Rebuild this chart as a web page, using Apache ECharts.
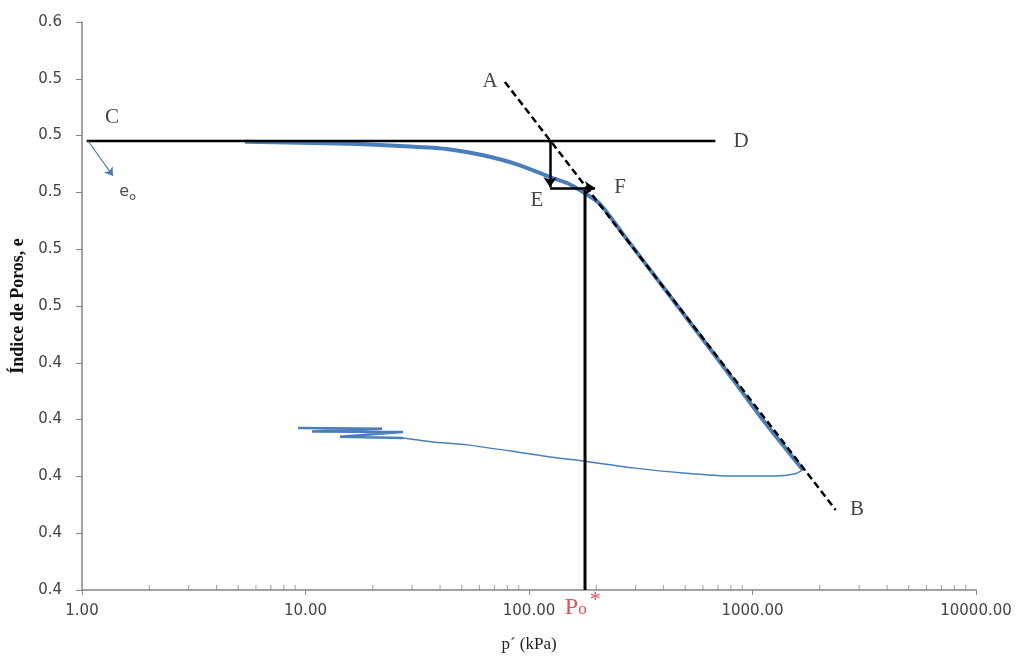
<!DOCTYPE html>
<html>
<head>
<meta charset="utf-8">
<script src="https://cdn.jsdelivr.net/npm/echarts@6/dist/echarts.min.js"></script>
<style>
  html, body { margin: 0; padding: 0; background: #fff; }
  #chart { width: 1016px; height: 656px; }
</style>
</head>
<body>
<div id="chart"></div>
<script>
// curva de carga (p', e)
var loadP = [5.36, 9.45, 15.8, 21.5, 29.4, 37.2, 44.3, 62.3, 88.4, 124.2, 147.9, 174.4, 207.8, 263.4, 427.4, 715.4, 1080, 1683];
var loadE = [0.5178, 0.5175, 0.5171, 0.5167, 0.5162, 0.5157, 0.5151, 0.5131, 0.5099, 0.5054, 0.5033, 0.5001, 0.4959, 0.4853, 0.4635, 0.4403, 0.4213, 0.4023];
// curva de descarga
var unloadP = [1683, 1550, 1261, 818, 488.7, 292, 174.4, 124.2, 88.4, 52.8, 37.2, 27.3];
var unloadE = [0.4023, 0.4009, 0.4001, 0.4001, 0.4012, 0.4030, 0.4054, 0.4068, 0.4086, 0.4111, 0.4121, 0.4135];
// tramo final irregular de la descarga
var jagP = [27.3, 14.27, 27.3, 10.69, 22.0, 9.26];
var jagE = [0.4135, 0.4140, 0.4156, 0.4158, 0.4168, 0.4170];
// construccion de Casagrande
var lineCD = [[1.05, 0.5181], [682, 0.5181]];
var lineAB = [[78, 0.5389], [2355, 0.3882]];
var lineP0 = [[178.1, 0.36], [178.1, 0.5019]];
var arrowEF = [
  [[124.2, 0.5181], [124.2, 0.5018]],
  [[124.2, 0.50155], [197.4, 0.50155]]
];
var arrowE0 = [[1.064, 0.5181], [1.376, 0.5058]];
// etiquetas [texto, p', e]
var labels = [
  ['A', 66.9, 0.5389],
  ['B', 2935, 0.3882],
  ['C', 1.362, 0.5265],
  ['D', 888, 0.5181],
  ['E', 108.6, 0.4973],
  ['F', 255.4, 0.5019]
];
var labelE0 = [1.60, 0.5001];
var labelP0 = [174, 0.3538];
// ejes
var yMin = 0.36, yMax = 0.56, yStep = 0.02;
var xMin = 1, xMax = 10000;
var minorMult = [2, 3, 4, 5, 6, 7, 8, 9];
var decades = [1, 10, 100, 1000];

var zip = function (a, b) { return a.map(function (v, i) { return [v, b[i]]; }); };
var minorTicks = [];
decades.forEach(function (d) { minorMult.forEach(function (m) { minorTicks.push([d * m, yMin]); }); });

var chart = echarts.init(document.getElementById('chart'));
var black = '#000';
var blue = '#4a7ebb';
var red = '#e3202a';
var axisGray = '#868686';

chart.setOption({
  animation: false,
  grid: { left: 82, right: 40, top: 22, bottom: 66, containLabel: false, outerBoundsMode: 'none' },
  xAxis: {
    type: 'log',
    logBase: 10,
    min: xMin,
    max: xMax,
    name: 'p´ (kPa)',
    nameLocation: 'middle',
    nameGap: 46,
    nameTextStyle: { fontFamily: 'Liberation Serif', fontSize: 17, color: '#222' },
    axisLine: { lineStyle: { color: axisGray, width: 1.5 } },
    axisTick: { show: true, length: 5, lineStyle: { color: axisGray } },
    splitLine: { show: false },
    axisLabel: {
      fontFamily: 'DejaVu Sans', fontSize: 15, color: '#444', margin: 14,
      formatter: function (v) { return Number(v).toFixed(2); }
    }
  },
  yAxis: {
    type: 'value',
    min: yMin,
    max: yMax,
    interval: yStep,
    name: 'Índice de Poros, e',
    nameLocation: 'middle',
    nameGap: 54,
    nameTextStyle: { fontFamily: 'Liberation Serif', fontWeight: 'bold', fontSize: 18, color: '#111' },
    axisLine: { show: true, lineStyle: { color: axisGray, width: 1.5 } },
    axisTick: { show: true, length: 6, lineStyle: { color: axisGray } },
    splitLine: { show: false },
    axisLabel: {
      fontFamily: 'DejaVu Sans', fontSize: 15, color: '#444', margin: 20,
      formatter: function (v) { return Number(v).toFixed(1); }
    }
  },
  series: [
    {
      type: 'scatter', silent: true, clip: false, z: 1,
      symbol: 'rect', symbolSize: [1, 5], symbolOffset: [0, -2.5],
      itemStyle: { color: axisGray },
      data: minorTicks
    },
    {
      name: 'carga', type: 'line', showSymbol: false, smooth: 0.3, z: 3,
      lineStyle: { color: blue, width: 4 },
      data: zip(loadP, loadE)
    },
    {
      name: 'descarga', type: 'line', showSymbol: false, smooth: 0.2, z: 3,
      lineStyle: { color: blue, width: 1.5 },
      data: zip(unloadP, unloadE)
    },
    {
      type: 'line', showSymbol: false, z: 3,
      lineStyle: { color: blue, width: 2.5 },
      data: zip(jagP, jagE)
    },
    {
      type: 'line', showSymbol: false, z: 4,
      lineStyle: { color: black, width: 2.5 },
      data: lineCD
    },
    {
      type: 'line', showSymbol: false, z: 4,
      lineStyle: { color: black, width: 2.5, type: [7, 4] },
      data: lineAB
    },
    {
      type: 'line', showSymbol: false, z: 4,
      lineStyle: { color: black, width: 3 },
      data: lineP0
    },
    {
      type: 'lines', coordinateSystem: 'cartesian2d', z: 5,
      symbol: ['none', 'arrow'], symbolSize: 10,
      lineStyle: { color: black, width: 2.5, opacity: 1 },
      data: arrowEF.map(function (c) { return { coords: c }; })
    },
    {
      type: 'lines', coordinateSystem: 'cartesian2d', z: 5,
      symbol: ['none', 'arrow'], symbolSize: 8,
      lineStyle: { color: blue, width: 1.2, opacity: 1 },
      data: [{ coords: arrowE0 }]
    },
    {
      type: 'scatter', silent: true, clip: false, symbolSize: 0, z: 6,
      label: {
        show: true, position: 'inside',
        fontFamily: 'Liberation Serif', fontSize: 21, color: '#111',
        formatter: function (p) { return p.data[2]; }
      },
      data: labels.map(function (l) { return [l[1], l[2], l[0]]; })
    },
    {
      type: 'scatter', silent: true, clip: false, symbolSize: 0, z: 6,
      label: {
        show: true, position: 'inside',
        formatter: '{e|e}{o|o}',
        rich: {
          e: { fontFamily: 'DejaVu Sans', fontSize: 16, color: '#222' },
          o: { fontFamily: 'DejaVu Sans', fontSize: 11, color: '#222', padding: [10, 0, 0, 0] }
        }
      },
      data: [labelE0]
    },
    {
      type: 'scatter', silent: true, clip: false, symbolSize: 0, z: 6,
      label: {
        show: true, position: 'inside',
        formatter: '{p|P}{o|o}{s|*}',
        rich: {
          p: { fontFamily: 'Liberation Serif', fontSize: 24, color: red },
          o: { fontFamily: 'Liberation Serif', fontSize: 17, color: red, padding: [4, 0, 0, 0] },
          s: { fontFamily: 'Liberation Serif', fontSize: 22, color: red, padding: [0, 0, 14, 3] }
        }
      },
      data: [labelP0]
    }
  ]
});
</script>
</body>
</html>
